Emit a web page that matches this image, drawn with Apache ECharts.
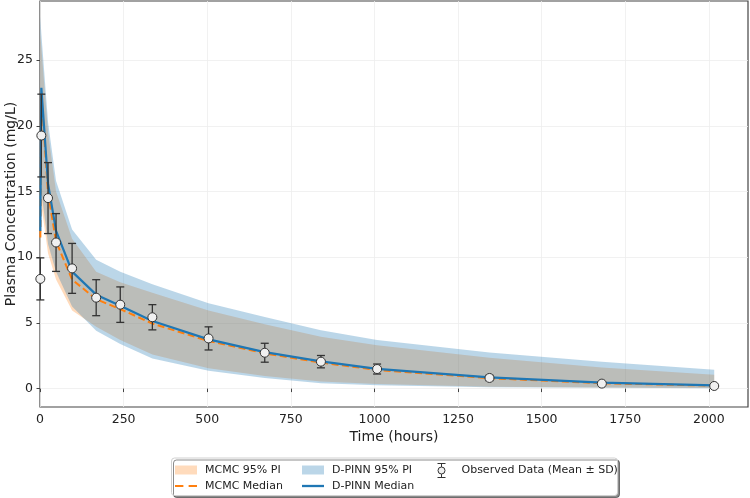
<!DOCTYPE html>
<html>
<head>
<meta charset="utf-8">
<script src="https://cdn.jsdelivr.net/npm/echarts@6/dist/echarts.min.js"></script>
<style>html,body{margin:0;padding:0;background:#fff}#c{width:750px;height:498px}</style>
</head>
<body>
<div id="c"></div>
<script>
// Time grid (hours)
const times = [1, 4, 24, 48, 96, 168, 240, 336, 504, 672, 840, 1008, 1344, 1680, 2016];
// Observed data
const obsMean = [8.35, 19.26, 14.5, 11.12, 9.15, 6.92, 6.39, 5.43, 3.82, 2.73, 2.05, 1.49, 0.81, 0.38, 0.2];
const obsSD = [1.6, 3.15, 2.7, 2.2, 1.9, 1.37, 1.35, 0.96, 0.88, 0.72, 0.47, 0.38, 0.21, 0.1, 0.05];
// Model medians
const dpinnMedian = [12.0, 22.9, 15.6, 12.0, 8.9, 7.15, 6.3, 5.15, 3.75, 2.78, 2.07, 1.5, 0.85, 0.45, 0.25];
const mcmcMedian = [11.5, 22.4, 14.9, 11.2, 8.3, 6.8, 6.05, 4.95, 3.62, 2.68, 1.98, 1.42, 0.79, 0.41, 0.22];
// 95% prediction intervals
const dpinnUpper = [28.3, 27.0, 20.3, 15.8, 12.1, 9.8, 8.9, 7.95, 6.5, 5.45, 4.45, 3.7, 2.75, 2.05, 1.44];
const dpinnLower = [6.0, 15.0, 11.0, 8.9, 6.24, 4.4, 3.4, 2.3, 1.35, 0.8, 0.4, 0.25, 0.1, 0.06, 0.03];
const mcmcUpper = [27.0, 26.0, 19.5, 15.0, 11.4, 8.9, 8.1, 7.3, 5.95, 4.9, 3.95, 3.3, 2.35, 1.6, 1.06];
const mcmcLower = [5.5, 14.0, 10.3, 8.3, 5.95, 4.7, 3.7, 2.6, 1.55, 0.95, 0.55, 0.35, 0.15, 0.08, 0.05];
// Tick labels
const xTicks = [0, 250, 500, 750, 1000, 1250, 1500, 1750, 2000];
const yTicks = [0, 5, 10, 15, 20, 25];

const FONT = 'DejaVu Sans';
const pair = (arr) => times.map((t, i) => [t, arr[i]]);

const ORANGE_FILL = 'rgba(255,127,14,0.28)';
const BLUE_FILL = 'rgba(31,119,180,0.3)';
const errIcon = 'path://M1,0 L9,0 M5,0 L5,3.5 M5,10.5 L5,14 M1,14 L9,14 M8.5,7 A3.5,3.5 0 1 1 1.5,7 A3.5,3.5 0 1 1 8.5,7 Z';
const dashIcon = 'path://M0,0 L8,0 L8,2 L0,2 Z M13,0 L21,0 L21,2 L13,2 Z';
const solidIcon = 'path://M0,0 L21,0 L21,2.2 L0,2.2 Z';

function bandSeries(name, upper, lower, color, z) {
  return {
    name: name, type: 'custom', z: z, data: pair(upper), encode: {x: 0, y: 1},
    itemStyle: {color: color},
    renderItem: function (params, api) {
      if (params.dataIndex !== 0) return null;
      const pts = [];
      for (let i = 0; i < times.length; i++) pts.push(api.coord([times[i], upper[i]]));
      for (let i = times.length - 1; i >= 0; i--) pts.push(api.coord([times[i], lower[i]]));
      return {type: 'polygon', shape: {points: pts}, style: {fill: color}};
    }
  };
}

const chart = echarts.init(document.getElementById('c'), null, {renderer: 'canvas'});
const legendCommon = {
  orient: 'vertical', top: 463, itemGap: 2, padding: 0, selectedMode: false, symbolKeepAspect: true,
  textStyle: {fontFamily: FONT, fontSize: 11, color: '#222', lineHeight: 14, padding: [0, 0, 0, 3]}
};
chart.setOption({
  animation: false,
  textStyle: {fontFamily: FONT},
  grid: {left: 40, right: 2, top: 1, bottom: 91, outerBoundsMode: 'none', containLabel: false,
    show: true, borderColor: '#444', borderWidth: 1.2, backgroundColor: 'transparent'},
  xAxis: {
    type: 'value', min: 0, max: 2117, interval: 250,
    name: 'Time (hours)', nameLocation: 'middle', nameGap: 23, nameMoveOverlap: false,
    nameTextStyle: {fontFamily: FONT, fontSize: 14, color: '#222'},
    axisLine: {show: false},
    axisTick: {show: true, inside: false, length: 3.5, lineStyle: {color: '#444'}, customValues: xTicks},
    axisLabel: {fontFamily: FONT, fontSize: 12.5, color: '#222', margin: 6, customValues: xTicks,
      formatter: (v) => String(v)},
    splitLine: {show: true, lineStyle: {color: '#eeeeee', width: 0.8}}
  },
  yAxis: {
    type: 'value', min: -1.4, max: 29.5,
    name: 'Plasma Concentration (mg/L)', nameLocation: 'middle', nameGap: 22, nameMoveOverlap: false,
    nameTextStyle: {fontFamily: FONT, fontSize: 14, color: '#222'},
    axisLine: {show: false},
    axisTick: {show: true, inside: false, length: 3.5, lineStyle: {color: '#444'}, customValues: yTicks},
    axisLabel: {fontFamily: FONT, fontSize: 12.5, color: '#222', margin: 7, customValues: yTicks,
      formatter: (v) => String(v)},
    splitLine: {show: true, lineStyle: {color: '#eeeeee', width: 0.8}}
  },
  graphic: [{
    type: 'rect', z: 1,
    shape: {x: 171.5, y: 458, width: 446, height: 37.5, r: 3},
    style: {fill: '#fff', stroke: '#d0d0d0', lineWidth: 1, shadowColor: 'rgba(0,0,0,0.45)', shadowOffsetX: 2, shadowOffsetY: 2, shadowBlur: 0}
  }],
  legend: [
    Object.assign({}, legendCommon, {left: 175, itemWidth: 22, itemHeight: 9,
      data: [{name: 'MCMC 95% PI', icon: 'rect', itemStyle: {color: ORANGE_FILL, borderWidth: 0}},
             {name: 'MCMC Median', icon: dashIcon, itemStyle: {color: '#ff7f0e', borderWidth: 0}}]}),
    Object.assign({}, legendCommon, {left: 302, itemWidth: 22, itemHeight: 9,
      data: [{name: 'D-PINN 95% PI', icon: 'rect', itemStyle: {color: BLUE_FILL, borderWidth: 0}},
             {name: 'D-PINN Median', icon: solidIcon, itemStyle: {color: '#1f77b4', borderWidth: 0}}]}),
    Object.assign({}, legendCommon, {left: 437, itemWidth: 10, itemHeight: 14,
      textStyle: Object.assign({}, legendCommon.textStyle, {padding: [0, 0, 0, 10]}),
      data: [{name: 'Observed Data (Mean ± SD)', icon: errIcon, itemStyle: {color: '#f0f0f0', borderColor: '#333', borderWidth: 1}}]})
  ],
  series: [
    bandSeries('MCMC 95% PI', mcmcUpper, mcmcLower, ORANGE_FILL, 1),
    bandSeries('D-PINN 95% PI', dpinnUpper, dpinnLower, BLUE_FILL, 2),
    {name: 'MCMC Median', type: 'line', data: pair(mcmcMedian), symbol: 'none', showSymbol: false, z: 3,
      itemStyle: {color: '#ff7f0e'}, lineStyle: {color: '#ff7f0e', width: 2, type: [7, 3.5]}},
    {name: 'D-PINN Median', type: 'line', data: pair(dpinnMedian), symbol: 'none', showSymbol: false, z: 4,
      itemStyle: {color: '#1f77b4'}, lineStyle: {color: '#1f77b4', width: 2.2}},
    {name: 'obsErr', type: 'custom', z: 5,
      data: times.map((t, i) => [t, obsMean[i], obsSD[i]]),
      encode: {x: 0, y: 1},
      renderItem: function (params, api) {
        const t = api.value(0), m = api.value(1), s = api.value(2);
        const top = api.coord([t, m + s]);
        const bot = api.coord([t, m - s]);
        const hw = 4;
        const st = {stroke: '#333', lineWidth: 1.3};
        return {type: 'group', children: [
          {type: 'line', shape: {x1: top[0], y1: top[1], x2: bot[0], y2: bot[1]}, style: st},
          {type: 'line', shape: {x1: top[0] - hw, y1: top[1], x2: top[0] + hw, y2: top[1]}, style: st},
          {type: 'line', shape: {x1: bot[0] - hw, y1: bot[1], x2: bot[0] + hw, y2: bot[1]}, style: st}
        ]};
      }
    },
    {name: 'Observed Data (Mean ± SD)', type: 'scatter', z: 6, data: pair(obsMean),
      symbol: 'circle', symbolSize: 9,
      itemStyle: {color: '#f0f0f0', borderColor: '#333', borderWidth: 1, opacity: 1}}
  ]
});
</script>
</body>
</html>
